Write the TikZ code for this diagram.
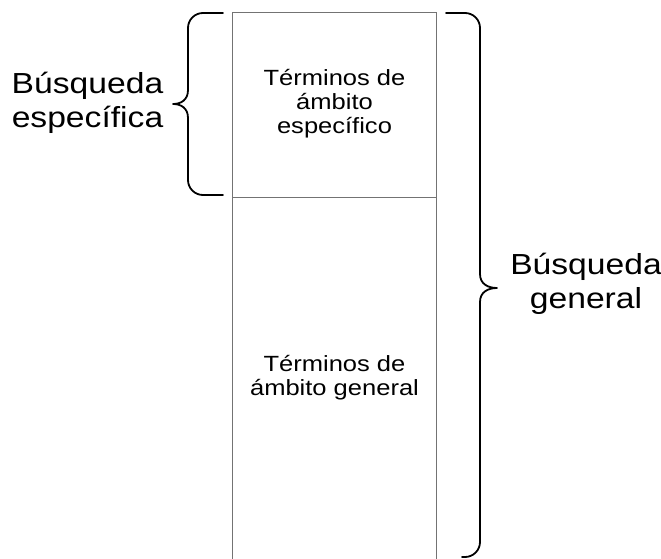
\documentclass[tikz,border=0pt]{standalone}
\usepackage{fontspec}
\setmainfont{Liberation Sans}
\newfontfamily\widesans[FakeStretch=1.16]{Liberation Sans}
\begin{document}
\begin{tikzpicture}[x=1pt,y=-1pt,
  boxline/.style={draw=black!55,line width=1pt},
  bracel/.style={draw=black,line width=1.8pt,line cap=round,line join=round},
  biglabel/.style={align=center,inner sep=0pt,font=\widesans\fontsize{29}{34}\selectfont},
  boxlabel/.style={align=center,inner sep=0pt,font=\widesans\fontsize{22}{24}\selectfont}]
\useasboundingbox (0,0) rectangle (661,559);
% column
\coordinate (tl) at (232.5,13);
\coordinate (tr) at (436.5,13);
\coordinate (bl) at (232.5,562);
\coordinate (br) at (436.5,562);
\coordinate (ml) at (232.5,197);
\coordinate (mr) at (436.5,197);
\draw[boxline] (bl) -- (tl) -- (tr) -- (br);
\draw[boxline] (ml) -- (mr);
% texts
\node[boxlabel] (spec) at (334.5,104) {Términos de\\ámbito\\específico};
\node[boxlabel] (gen) at (334.5,378) {Términos de\\ámbito general};
\node[biglabel] (lspec) at (87.5,102.5) {Búsqueda\\específica};
\node[biglabel] (lgen) at (586,283.5) {Búsqueda\\general};
% left brace
\draw[bracel,rounded corners=15pt] (223,13) -- (188,13) -- (188,60);
\draw[bracel] (188,59) -- (188,90) .. controls (188,100) and (181,104) .. (173,104)
  .. controls (181,104) and (188,108) .. (188,118) -- (188,150);
\draw[bracel,rounded corners=15pt] (188,149) -- (188,195) -- (223,195);
% right brace
\draw[bracel,rounded corners=15pt] (446,13) -- (480,13) -- (480,60);
\draw[bracel] (480,59) -- (480,274) .. controls (480,284) and (488,288) .. (497,288)
  .. controls (488,288) and (480,292) .. (480,302) -- (480,500);
\draw[bracel,rounded corners=15pt] (480,499) -- (480,557) -- (462,557);
\end{tikzpicture}
\end{document}
